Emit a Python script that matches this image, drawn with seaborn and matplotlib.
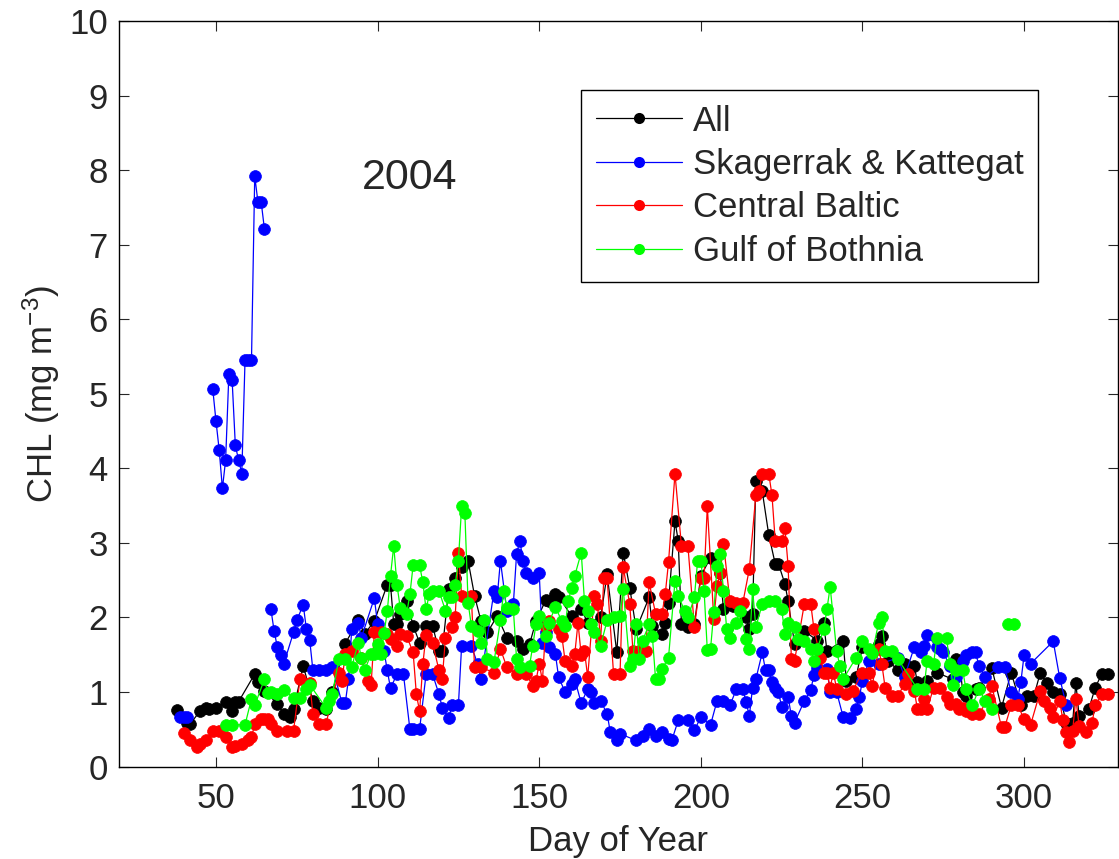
import numpy as np
import pandas as pd
import matplotlib
matplotlib.use("Agg")
import matplotlib.pyplot as plt
from matplotlib.lines import Line2D
import seaborn as sns

nan = np.nan

# daily mean CHL per region (nan = gap in the record)
all_day = [38, 41, 42, 45, 47, 48, 50, 53, 55, 56, 57, 62, 63, 65, 69, 71, 73, 74, 77, 80,
           82, 84, 86, 90, 94, 96, 99, 103, 104, 105, 106, 107, 109, 111, 113, 115, 117, 119, 120, 122,
           124, 126, 128, 130, 132, 134, 137, 140, 143, 145, 147, 149, 152, 153, 155, 156, 160, 163, 165, 169,
           171, 174, 176, 178, 180, 184, 185, 188, 189, 190, 192, 193, 194, 196, 198, 200, 203, 206, 207, 210,
           214, 215, 216, 217, 219, 221, 223, 224, 226, 227, 229, 232, 236, 238, 239, 244, 245, 248, 250, 255,
           256, 258, 261, 263, 266, 267, 270, 273, 278, 279, 280, 281, 282, 285, 286, 290, 293, 296, 299, 301,
           303, 305, 307, 309, 311, 313, 315, 316, 317, 320, 322, 324, 326]
all_chl = [0.76, 0.59, 0.57, 0.74, 0.79, 0.77, 0.79, 0.87, 0.75, 0.87, 0.87, 1.24, 1.13, 1.02, 0.84, 0.71, 0.66, 0.77, 1.35, 0.88,
           0.79, 0.77, 1.00, 1.65, 1.96, 1.78, 1.95, 2.44, 2.44, 1.91, 1.91, 2.04, 2.22, 1.89, 1.66, 1.89, 1.89, 1.55, 1.55, 2.38,
           2.53, 2.67, 2.76, 2.29, 1.95, 1.80, 2.02, 1.73, 1.69, 1.58, 1.64, 1.95, 2.23, 2.22, 2.31, 2.28, 2.02, 2.11, 1.93, 2.00,
           2.58, 1.53, 2.87, 2.40, 1.84, 2.27, 1.89, 1.78, 1.93, 2.20, 3.29, 3.03, 1.91, 1.87, 1.91, 2.56, 2.80, 2.59, 2.11, 2.16,
           2.00, 1.84, 2.04, 3.83, 3.69, 3.11, 2.72, 2.72, 2.45, 2.22, 1.64, 1.82, 1.69, 1.92, 1.55, 1.69, 1.15, 1.20, 1.60, 1.64,
           1.75, 1.42, 1.29, 1.37, 1.35, 1.13, 1.15, 1.26, 1.17, 1.44, 1.42, 1.00, 0.95, 1.04, 1.06, 1.32, 0.79, 1.26, 0.82, 0.94,
           0.94, 1.26, 1.12, 1.00, 0.97, 0.59, 0.59, 1.12, 0.68, 0.77, 1.06, 1.24, 1.24]

sk_day = [39, 40, 41, 45,
          49, 50, 51, 52, 53, 54, 55, 56, 57, 58, 59, 60, 61, 62, 63, 64, 65, 66,
          67, 68, 69, 70, 71, 74, 75, 77, 78, 79, 80, 82, 84, 86, 89, 90, 91, 92,
          94, 95, 99, 100, 102, 103, 104, 106, 108, 110, 111, 113, 115, 117, 119, 120, 122, 123, 125, 126,
          129, 131, 132, 136, 137, 138, 140, 142, 143, 144, 145, 146, 148, 150, 151, 152, 153, 155, 156, 158,
          160, 161, 163, 165, 166, 167, 169, 171, 172, 174, 175, 180, 182, 184, 186, 188, 190, 191, 193, 196,
          198, 200, 203, 205, 207, 209, 211, 213, 214, 215, 216, 217, 219, 220, 221, 222, 223, 224, 225, 227,
          228, 229, 232, 234, 235, 236, 239, 240, 242, 244, 246, 248, 249, 250, 252, 255, 261, 263, 266, 268,
          269, 270, 273, 274, 275, 277, 279, 281, 282, 284, 285, 286, 288, 292, 294, 296, 298, 299, 300, 302,
          309, 311, 313]
sk_chl = [0.67, 0.67, 0.67, nan,
          5.07, 4.64, 4.25, 3.73, 4.11, 5.26, 5.19, 4.31, 4.11, 3.93, 5.45, 5.45, 5.45, 7.92, 7.57, 7.57, 7.21, nan,
          2.11, 1.82, 1.60, 1.49, 1.38, 1.80, 1.96, 2.17, 1.84, 1.70, 1.29, 1.29, 1.29, 1.34, 0.85, 0.85, 1.17, 1.84,
          1.93, 1.73, 2.26, 1.91, 1.55, 1.29, 1.05, 1.24, 1.24, 0.50, 0.50, 0.50, 1.24, 1.24, 0.97, 0.79, 0.65, 0.82, 0.82, 1.62,
          1.62, 1.37, 1.17, 2.35, 2.27, 2.76, 2.09, 2.18, 2.85, 3.03, 2.76, 2.60, 2.53, 2.60, 1.66, 1.80, 1.60, 1.51, 1.20, 1.00,
          1.11, 1.17, 0.85, 1.04, 1.00, 0.85, 0.88, 0.71, 0.46, 0.36, 0.44, 0.35, 0.41, 0.50, 0.41, 0.46, 0.37, 0.35, 0.62, 0.62,
          0.49, 0.66, 0.56, 0.88, 0.88, 0.82, 1.04, 1.04, 0.86, 0.68, 1.06, 1.17, 1.53, 1.29, 1.29, 1.13, 1.06, 1.00, 0.80, 0.93,
          0.68, 0.59, 0.88, 1.03, 1.23, 1.32, 1.31, 1.00, 1.00, 0.67, 0.65, 0.77, 0.93, 1.15, 1.42, 1.37, 1.46, 1.20, 1.60, 1.53,
          1.62, 1.77, 1.60, 1.58, 1.53, 1.35, 1.20, 1.42, 1.49, 1.53, 1.53, 1.35, 1.20, 1.33, 1.33, 1.00, 0.91, 1.14, 1.50, 1.38,
          1.68, 1.19, 0.83]

cb_day = [40, 42, 44, 45, 47, 49, 51, 53, 55, 56, 58, 60, 61, 62, 64, 65, 66, 67, 69, 72,
          74, 76, 79, 80, 82, 84, 88, 89, 90, 92, 95, 97, 98, 99, 101, 103, 104, 106, 107, 109,
          111, 112, 113, 114, 115, 117, 119, 120, 121, 123, 124, 125, 126, 129, 130, 132, 136, 138, 140, 143,
          146, 148, 149, 150, 151, 152, 153, 156, 157, 158, 160, 161, 162, 163, 164, 165, 167, 168, 169, 170,
          171, 173, 175, 176, 178, 179, 181, 183, 184, 186, 188, 189, 190, 192, 194, 196, 198, 200, 201, 202,
          204, 205, 206, 207, 209, 211, 213, 215, 217, 218, 219, 221, 222, 223, 225, 226, 227, 228, 229, 232,
          234, 235, 237, 238, 239, 240, 241, 242, 245, 247, 250, 252, 253, 255, 256, 257, 259, 261, 263, 264,
          266, 267, 268, 269, 270, 272, 274, 276, 277, 279, 280, 281, 282, 284, 286, 289, 290, 293, 294, 296,
          298, 300, 302, 305, 306, 308, 309, 311, 312, 313, 314, 315, 316, 317, 319, 321, 322, 324, 326]
cb_chl = [0.45, 0.35, 0.26, 0.30, 0.35, 0.48, 0.48, 0.39, 0.26, 0.28, 0.30, 0.35, 0.39, 0.57, 0.64, 0.64, 0.64, 0.57, 0.48, 0.48,
          0.48, 1.17, 1.12, 0.71, 0.57, 0.57, 1.26, 1.15, 1.51, 1.55, 1.46, 1.15, 1.10, 1.80, 1.81, 1.78, 1.71, 1.62, 1.78, 1.75,
          1.53, 0.97, 0.74, 1.37, 1.77, 1.66, 1.29, 1.17, 1.73, 1.87, 2.00, 2.86, 2.29, 2.29, 1.33, 1.33, 1.26, 1.58, 1.33, 1.24,
          1.24, 1.08, 1.15, 1.38, 1.15, 1.87, 1.95, 1.84, 1.75, 1.42, 1.35, 1.51, 1.93, 1.49, 1.55, 1.20, 2.29, 2.18, 1.69, 2.53,
          2.53, 1.24, 1.24, 2.67, 2.18, 1.55, 1.55, 1.55, 2.47, 2.05, 2.05, 2.32, 2.74, 3.93, 2.96, 2.96, 1.87, 2.53, 2.53, 3.49,
          1.98, 2.42, 2.60, 2.99, 2.22, 2.20, 2.20, 2.65, 3.64, 3.69, 3.93, 3.93, 3.64, 3.03, 3.03, 3.20, 2.69, 1.44, 1.42, 2.18,
          2.18, 1.84, 1.46, 1.26, 1.26, 1.06, 1.26, 1.04, 0.97, 1.02, 1.26, 1.26, 1.08, 1.58, 1.37, 1.06, 0.95, 0.95, 1.11, 1.24,
          1.02, 0.77, 0.77, 0.91, 0.77, 1.06, 1.06, 0.93, 0.84, 0.84, 0.77, 0.79, 0.75, 0.71, 0.71, 0.91, 1.08, 0.53, 0.53, 0.82,
          0.82, 0.64, 0.56, 1.01, 0.88, 0.79, 0.66, 0.88, 0.62, 0.46, 0.33, 0.48, 0.91, 0.55, 0.47, 0.59, 0.82, 0.97, 0.97]

gb_day = [53, 55, 59, 61, 62, 65, 66, 67, 69, 71, 74, 76, 78, 79, 84, 85, 86, 88, 90, 92,
          94, 95, 96, 98, 99, 100, 101, 102, 103, 104, 105, 106, 107, 109, 110, 111, 113, 114, 115, 116,
          117, 119, 121, 122, 123, 124, 125, 126, 127, 128, 129, 131, 132, 133, 134, 136, 138, 139, 140, 142,
          143, 144, 147, 148, 149, 150, 152, 153, 155, 157, 158, 159, 160, 161, 163, 164, 165, 166, 167, 169,
          171, 173, 175, 176, 178, 179, 180, 181, 182, 184, 185, 186, 187, 188, 190, 192, 193, 195, 196, 198,
          199, 200, 201, 202, 203, 204, 205, 206, 207, 208, 209, 211, 212, 214, 215, 216, 217, 219, 221, 223,
          225, 226, 227, 229, 230, 232, 234, 235, 236, 238, 239, 240, 242, 243, 244, 248, 250, 252, 253, 255,
          256, 257, 259, 261, 267, 269, 270, 272, 273, 276, 277, 278, 279, 281, 282, 284, 286, 288, 290, 292,
          295, 297]
gb_chl = [0.56, 0.56, 0.56, 0.91, 0.82, 1.17, 0.99, 1.00, 0.97, 1.03, 0.92, 0.92, 1.04, 1.10, 0.79, 0.88, 0.97, 1.44, 1.44, 1.33,
          1.66, 1.46, 1.29, 1.51, 1.51, 1.64, 1.51, 1.79, 2.08, 2.56, 2.96, 2.44, 2.13, 2.05, 2.31, 2.70, 2.70, 2.47, 2.11, 2.31,
          2.36, 2.36, 2.09, 2.27, 2.27, 2.44, 2.76, 3.49, 3.40, 2.20, 1.89, 1.82, 1.66, 1.96, 1.44, 1.40, 1.96, 2.35, 2.13, 2.11,
          1.44, 1.33, 1.35, 1.62, 1.91, 2.02, 1.75, 1.93, 2.14, 1.95, 1.89, 2.22, 2.40, 2.56, 2.87, 2.22, 2.08, 1.91, 1.80, 1.62,
          1.96, 2.00, 2.02, 2.38, 1.35, 1.44, 1.91, 1.44, 1.69, 1.91, 1.75, 1.17, 1.17, 1.31, 1.46, 2.49, 2.29, 2.09, 2.00, 2.27,
          2.76, 2.76, 2.36, 1.56, 1.58, 2.07, 2.69, 2.85, 2.36, 1.84, 1.73, 1.93, 2.09, 1.71, 1.58, 2.38, 1.87, 2.18, 2.22, 2.22,
          2.11, 1.78, 1.93, 1.87, 1.71, 1.69, 1.58, 1.42, 1.58, 1.84, 2.11, 2.41, 1.55, 1.35, 1.17, 1.46, 1.68, 1.58, 1.52, 1.93,
          2.00, 1.55, 1.55, 1.44, 1.04, 1.04, 1.42, 1.38, 1.73, 1.73, 1.37, 1.10, 1.29, 1.29, 1.04, 0.82, 1.04, 0.88, 0.77, nan,
          1.91, 1.91]

regions = ["All", "Skagerrak & Kattegat", "Central Baltic", "Gulf of Bothnia"]
colors = ["#000000", "#0000ff", "#ff0000", "#00ff00"]
year_label = "2004"


def to_frame(name, days, chl):
    df = pd.DataFrame({"day": days, "chl": chl})
    # a new segment starts after every gap so the line is broken there
    df["seg"] = df["chl"].isna().cumsum()
    df = df.dropna().copy()
    df["region"] = name
    return df


frames = [to_frame(n, d, c) for n, d, c in zip(regions,
                                               [all_day, sk_day, cb_day, gb_day],
                                               [all_chl, sk_chl, cb_chl, gb_chl])]

sns.set_style("white")
plt.rcParams["font.family"] = ["Liberation Sans", "DejaVu Sans"]
plt.rcParams["mathtext.default"] = "regular"

fig = plt.figure(figsize=(11.19, 8.59), dpi=100)
ax = fig.add_axes([0.1063, 0.1076, 0.8927, 0.868])

for df, col in zip(frames, colors):
    sns.lineplot(data=df, x="day", y="chl", units="seg", estimator=None, sort=False,
                 color=col, lw=0.9, marker="o", markersize=8.5, markeredgewidth=0.5,
                 markeredgecolor=col, legend=False, ax=ax)

ax.set_xlim(20, 329)
ax.set_ylim(0, 10)
ax.set_xticks([50, 100, 150, 200, 250, 300])
ax.set_yticks(range(0, 11))
ax.tick_params(direction="in", length=7, width=0.8, labelsize=25, pad=8,
               top=True, right=True, bottom=True, left=True)
ax.tick_params(axis="x", pad=11)
for sp in ax.spines.values():
    sp.set_color("black")
    sp.set_linewidth(1.0)

ax.set_xlabel("Day of Year", fontsize=25, labelpad=7)
ax.set_ylabel("CHL (mg m$^{-3}$)", fontsize=25, labelpad=5)
ax.text(110, 7.9, year_label, fontsize=31, ha="center", va="center")

handles = [Line2D([0], [0], color=c, lw=0.9, marker="o", markersize=8, markeredgewidth=0)
           for c in colors]
leg = ax.legend(handles, regions, loc="upper left", bbox_to_anchor=(581 / 1119, 1 - 90 / 859),
                bbox_transform=fig.transFigure, borderaxespad=0, fontsize=25,
                handlelength=2.5, handletextpad=0.3, labelspacing=0.3, borderpad=0.42,
                fancybox=False, framealpha=1, edgecolor="black")
leg.get_frame().set_linewidth(1.0)

fig.savefig("out.png", dpi=100)
